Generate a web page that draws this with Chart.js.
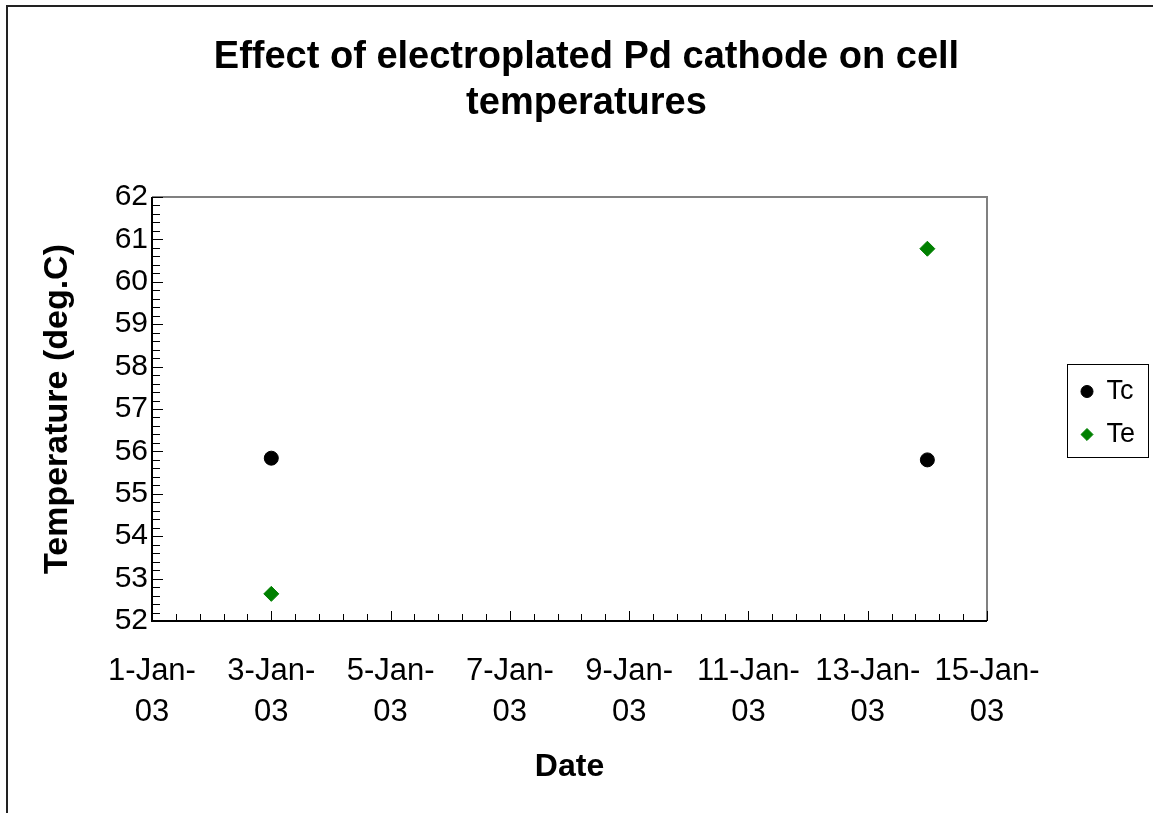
<!DOCTYPE html>
<html>
<head>
<meta charset="utf-8">
<title>Effect of electroplated Pd cathode on cell temperatures</title>
<script src="https://cdn.jsdelivr.net/npm/chart.js@4.4.1/dist/chart.umd.min.js"></script>
<style>
  html, body { margin: 0; padding: 0; background: #fff; }
  canvas { display: block; }
</style>
</head>
<body>
<canvas id="chart" width="1153" height="813"></canvas>
<script>
// data
const dates = ['3-Jan-03', '14-Jan-03'];
const tcValues = [55.84, 55.80];
const teValues = [52.64, 60.78];
const dayRange = [1, 15];
const tempRange = [52, 62];

const FONT = "'Liberation Sans', Arial, sans-serif";

const toDay = (s) => parseInt(s, 10);
const toPoints = (vals) => dates.map((d, i) => ({ x: toDay(d), y: vals[i] }));

// frame, inward tick marks (major + minor) and the outer chart border
const plotFrame = {
  id: 'plotFrame',
  beforeDraw(chart) {
    const { ctx, width, height } = chart;
    ctx.save();
    ctx.fillStyle = '#fff';
    ctx.fillRect(0, 0, width, height);
    ctx.strokeStyle = '#222';
    ctx.lineWidth = 2;
    ctx.strokeRect(7, 6, width + 20, height + 20);
    ctx.restore();
  },
  beforeDatasetsDraw(chart) {
    const { ctx, chartArea: a, scales: { x, y } } = chart;
    ctx.save();
    ctx.lineWidth = 2;
    ctx.strokeStyle = '#808080';
    ctx.beginPath();
    ctx.moveTo(a.left, a.top);
    ctx.lineTo(a.right, a.top);
    ctx.lineTo(a.right, a.bottom);
    ctx.stroke();

    ctx.strokeStyle = '#000';
    ctx.lineWidth = 1;
    ctx.beginPath();
    const nx = Math.round((x.max - x.min) / 0.4);
    for (let i = 0; i <= nx; i++) {
      const px = Math.round(x.getPixelForValue(x.min + i * 0.4)) + 0.5;
      const len = i % 5 === 0 ? 10 : 7;
      ctx.moveTo(px, a.bottom);
      ctx.lineTo(px, a.bottom - len);
    }
    const ny = Math.round((y.max - y.min) / 0.2);
    for (let i = 0; i <= ny; i++) {
      const py = Math.round(y.getPixelForValue(y.min + i * 0.2)) + 0.5;
      const len = i % 5 === 0 ? 11 : 8;
      ctx.moveTo(a.left, py);
      ctx.lineTo(a.left + len, py);
    }
    ctx.stroke();

    ctx.lineWidth = 2;
    ctx.beginPath();
    ctx.moveTo(a.left, a.top);
    ctx.lineTo(a.left, a.bottom);
    ctx.lineTo(a.right, a.bottom);
    ctx.stroke();
    ctx.restore();
  },
  afterLayout(chart) {
    // legend sits well to the right of the plot, like Excel's
    const lg = chart.legend;
    const dx = chart.chartArea.right + 78 - lg.left;
    lg.left += dx;
    lg.right += dx;
    lg.top += 4;
    lg.bottom += 4;
  },
  afterDraw(chart) {
    const hb = chart.legend.legendHitBoxes;
    if (!hb || !hb.length) return;
    const l = Math.min(...hb.map(h => h.left)) - 14;
    const r = Math.max(...hb.map(h => h.left + h.width)) + 13;
    const t = Math.min(...hb.map(h => h.top)) - 14;
    const b = Math.max(...hb.map(h => h.top + h.height)) + 9;
    const ctx = chart.ctx;
    ctx.save();
    ctx.strokeStyle = '#000';
    ctx.lineWidth = 1;
    ctx.strokeRect(Math.round(l) + 0.5, Math.round(t) + 0.5, Math.round(r - l), Math.round(b - t));
    ctx.restore();
  }
};

new Chart(document.getElementById('chart'), {
  type: 'scatter',
  data: {
    datasets: [
      {
        label: 'Tc',
        data: toPoints(tcValues),
        pointStyle: 'circle',
        pointRadius: 7,
        pointBorderWidth: 1,
        backgroundColor: '#000',
        borderColor: '#000'
      },
      {
        label: 'Te',
        data: toPoints(teValues),
        pointStyle: 'rectRot',
        pointRadius: 7.5,
        pointBorderWidth: 1,
        backgroundColor: '#008000',
        borderColor: '#008000'
      }
    ]
  },
  options: {
    responsive: false,
    animation: false,
    devicePixelRatio: 1,
    events: [],
    layout: { padding: { left: 20, right: 0, top: 0, bottom: 0 } },
    plugins: {
      title: {
        display: true,
        text: ['Effect of electroplated Pd cathode on cell', 'temperatures'],
        color: '#000',
        font: { family: FONT, size: 38, weight: 'bold', lineHeight: 46 / 38 },
        padding: { top: 35, bottom: 70 }
      },
      legend: {
        display: true,
        position: 'right',
        fullSize: false,
        labels: {
          usePointStyle: true,
          boxWidth: 12,
          boxHeight: 8.5,
          padding: 16,
          color: '#000',
          font: { family: FONT, size: 27 }
        }
      },
      tooltip: { enabled: false }
    },
    scales: {
      x: {
        type: 'linear',
        min: dayRange[0],
        max: dayRange[1],
        grid: { display: false, drawTicks: false },
        border: { display: false },
        ticks: {
          stepSize: 2,
          autoSkip: false,
          maxRotation: 0,
          color: '#000',
          padding: 30,
          font: { family: FONT, size: 31, lineHeight: 41 / 31 },
          callback: (v) => [v + '-Jan-', '03']
        },
        title: {
          display: true,
          text: 'Date',
          color: '#000',
          font: { family: FONT, size: 32, weight: 'bold' },
          padding: { top: 0, bottom: 27 }
        },
        afterFit(s) {
          s.height = 192;
          s.paddingRight = 166;
        }
      },
      y: {
        min: tempRange[0],
        max: tempRange[1],
        grid: { display: false, drawTicks: false },
        border: { display: false },
        ticks: {
          stepSize: 1,
          color: '#000',
          padding: 4,
          font: { family: FONT, size: 30 }
        },
        title: {
          display: true,
          text: 'Temperature (deg.C)',
          color: '#000',
          font: { family: FONT, size: 34, weight: 'bold' },
          padding: { top: 17, bottom: 0 }
        },
        afterFit(s) {
          s.width = 132;
        }
      }
    }
  },
  plugins: [plotFrame]
});
</script>
</body>
</html>
